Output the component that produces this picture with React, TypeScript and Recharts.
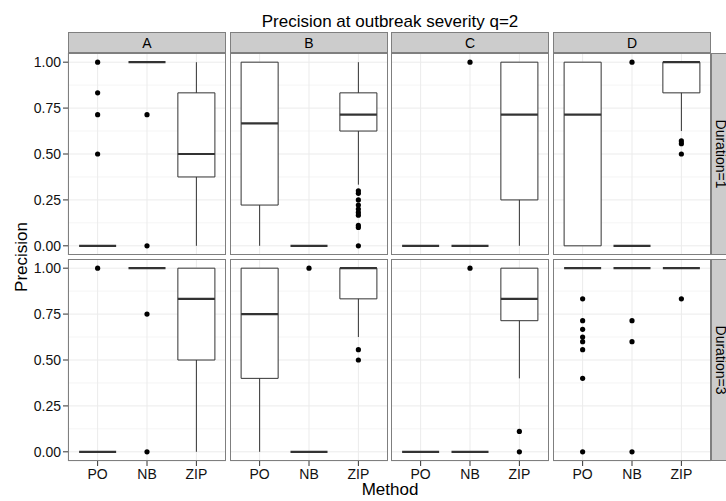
import React from 'react';
import { ComposedChart, XAxis, YAxis, CartesianGrid, ReferenceArea, ReferenceLine, Scatter } from 'recharts';

const methods = ['PO', 'NB', 'ZIP'];
const facets = ['A', 'B', 'C', 'D'];
const durations = ['Duration=1', 'Duration=3'];
const yTicks = [0, 0.25, 0.5, 0.75, 1];
const yMinor = [0.125, 0.375, 0.625, 0.875];

// each box: [lower whisker, q1, median, q3, upper whisker] for PO, NB, ZIP
const boxesA1 = [[0, 0, 0, 0, 0], [1, 1, 1, 1, 1], [0, 0.375, 0.5, 0.833, 1]];
const outA1 = [[1, 0.833, 0.714, 0.5], [0.714, 0], []];
const boxesB1 = [[0, 0.222, 0.667, 1, 1], [0, 0, 0, 0, 0], [0.333, 0.625, 0.714, 0.833, 1]];
const outB1 = [[], [], [0.3, 0.286, 0.25, 0.222, 0.2, 0.182, 0.167, 0.111, 0.1, 0]];
const boxesC1 = [[0, 0, 0, 0, 0], [0, 0, 0, 0, 0], [0, 0.25, 0.714, 1, 1]];
const outC1 = [[], [1], []];
const boxesD1 = [[0, 0, 0.714, 1, 1], [0, 0, 0, 0, 0], [0.625, 0.833, 1, 1, 1]];
const outD1 = [[], [1], [0.571, 0.556, 0.5]];

const boxesA3 = [[0, 0, 0, 0, 0], [1, 1, 1, 1, 1], [0, 0.5, 0.833, 1, 1]];
const outA3 = [[1], [0.75, 0], []];
const boxesB3 = [[0, 0.4, 0.75, 1, 1], [0, 0, 0, 0, 0], [0.625, 0.833, 1, 1, 1]];
const outB3 = [[], [1], [0.556, 0.5]];
const boxesC3 = [[0, 0, 0, 0, 0], [0, 0, 0, 0, 0], [0.4, 0.714, 0.833, 1, 1]];
const outC3 = [[], [1], [0.111, 0]];
const boxesD3 = [[1, 1, 1, 1, 1], [1, 1, 1, 1, 1], [1, 1, 1, 1, 1]];
const outD3 = [[0.833, 0.714, 0.667, 0.625, 0.6, 0.556, 0.4, 0], [0.714, 0.6, 0], [0.833]];

const panelBoxes = [
  [boxesA1, boxesB1, boxesC1, boxesD1],
  [boxesA3, boxesB3, boxesC3, boxesD3],
];
const panelOutliers = [
  [outA1, outB1, outC1, outD1],
  [outA3, outB3, outC3, outD3],
];

const colLeft = [68, 230, 391, 553];
const rowTop = [53, 259];
const panelW = 158;
const panelH = 202;
const yAxisW = 68;
const xAxisH = 30;
const boxColor = '#333333';
const borderColor = '#7F7F7F';
const font = '"Liberation Sans", Arial, sans-serif';

function Dot(props: any) {
  return <circle cx={props.cx} cy={props.cy} r={2.6} fill="#000" />;
}

function Panel({ boxes, outliers, showX, showY }: { boxes: number[][]; outliers: number[][]; showX: boolean; showY: boolean }) {
  const points = outliers.flatMap((vals, i) => vals.map((v) => ({ x: i + 1, y: v })));
  const w = panelW + (showY ? yAxisW : 0);
  const h = panelH + (showX ? xAxisH : 0);
  return (
    <ComposedChart width={w} height={h} margin={{ top: 0, right: 0, bottom: 0, left: 0 }}>
      <CartesianGrid stroke="#F5F5F5" vertical={false} horizontalValues={yMinor} />
      <CartesianGrid stroke="#EBEBEB" />
      <XAxis
        type="number"
        dataKey="x"
        domain={[0.4, 3.6]}
        ticks={[1, 2, 3]}
        allowDataOverflow
        hide={!showX}
        height={xAxisH}
        axisLine={false}
        tickSize={5}
        tickMargin={3}
        tickLine={{ stroke: boxColor }}
        tick={{ fill: '#111', fontSize: 14, fontFamily: font }}
        tickFormatter={(v: number) => methods[v - 1]}
      />
      <YAxis
        type="number"
        dataKey="y"
        domain={[-0.05, 1.05]}
        ticks={yTicks}
        allowDataOverflow
        hide={!showY}
        width={yAxisW}
        axisLine={false}
        tickSize={5}
        tickMargin={2}
        tickLine={{ stroke: boxColor }}
        tick={{ fill: '#111', fontSize: 14, fontFamily: font }}
        tickFormatter={(v: number) => v.toFixed(2)}
      />
      {boxes.map(([lo, q1, med, q3, hi], i) => (
        <ReferenceArea
          key={`box-${i}`}
          x1={i + 1 - 0.375}
          x2={i + 1 + 0.375}
          y1={q1}
          y2={q3}
          fill="#fff"
          fillOpacity={1}
          stroke={boxColor}
          strokeWidth={1}
        />
      ))}
      {boxes.map(([lo, q1, med, q3, hi], i) => (
        <ReferenceLine
          key={`wl-${i}`}
          segment={[{ x: i + 1, y: lo }, { x: i + 1, y: q1 }]}
          stroke={boxColor}
          strokeWidth={1}
        />
      ))}
      {boxes.map(([lo, q1, med, q3, hi], i) => (
        <ReferenceLine
          key={`wh-${i}`}
          segment={[{ x: i + 1, y: q3 }, { x: i + 1, y: hi }]}
          stroke={boxColor}
          strokeWidth={1}
        />
      ))}
      {boxes.map(([lo, q1, med, q3, hi], i) => (
        <ReferenceLine
          key={`med-${i}`}
          segment={[{ x: i + 1 - 0.375, y: med }, { x: i + 1 + 0.375, y: med }]}
          stroke={boxColor}
          strokeWidth={2.2}
        />
      ))}
      <Scatter data={points} dataKey="y" shape={<Dot />} isAnimationActive={false} />
    </ComposedChart>
  );
}

export default function App() {
  return (
    <div style={{ position: 'absolute', left: 0, top: 0, width: 726, height: 501, overflow: 'hidden', background: '#fff', fontFamily: font }}>
      {rowTop.map((top, r) =>
        colLeft.map((left, c) => (
          <div key={`p-${r}-${c}`} style={{ position: 'absolute', left: c === 0 ? left - yAxisW : left, top }}>
            <Panel boxes={panelBoxes[r][c]} outliers={panelOutliers[r][c]} showX={r === 1} showY={c === 0} />
          </div>
        ))
      )}
      <svg width={726} height={501} style={{ position: 'absolute', left: 0, top: 0, pointerEvents: 'none' }}>
        <text x={390} y={27} textAnchor="middle" fontSize={17} fill="#000" fontFamily={font}>
          Precision at outbreak severity q=2
        </text>
        {facets.map((f, c) => (
          <g key={`s-${f}`}>
            <rect x={colLeft[c] + 0.5} y={32.5} width={panelW - 1} height={20} fill="#CCCCCC" stroke={borderColor} />
            <text x={colLeft[c] + panelW / 2} y={48} textAnchor="middle" fontSize={14} fill="#000" fontFamily={font}>
              {f}
            </text>
          </g>
        ))}
        {rowTop.map((top, r) => (
          <g key={`rs-${r}`}>
            <rect x={711.5} y={top + 0.5} width={22} height={panelH - 1} fill="#CCCCCC" stroke={borderColor} />
            <text transform={`translate(716,${top + panelH / 2}) rotate(90)`} textAnchor="middle" fontSize={14} fill="#000" fontFamily={font}>
              {durations[r]}
            </text>
          </g>
        ))}
        {rowTop.map((top, r) =>
          colLeft.map((left, c) => (
            <rect key={`b-${r}-${c}`} x={left + 0.5} y={top + 0.5} width={panelW - 1} height={panelH - 1} fill="none" stroke={borderColor} />
          ))
        )}
        <text transform="translate(27,257) rotate(-90)" textAnchor="middle" fontSize={17} fill="#000" fontFamily={font}>
          Precision
        </text>
        <text x={390} y={495} textAnchor="middle" fontSize={17} fill="#000" fontFamily={font}>
          Method
        </text>
      </svg>
    </div>
  );
}
